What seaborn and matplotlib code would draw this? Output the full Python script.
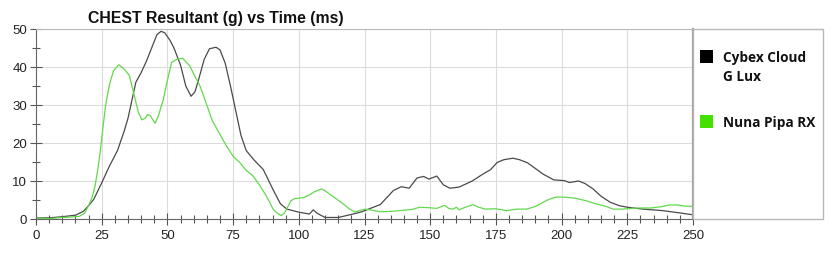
import matplotlib
matplotlib.use("Agg")
import matplotlib.pyplot as plt
from matplotlib.patches import Rectangle
from matplotlib.lines import Line2D
from matplotlib.ticker import MultipleLocator
import seaborn as sns
import pandas as pd

title = "CHEST Resultant (g) vs Time (ms)"
series_names = ["Cybex Cloud\nG Lux", "Nuna Pipa RX"]
line_colors = ["#4a4a4a", "#62d94c"]
patch_colors = ["#000000", "#44e000"]

cybex_t = [0, 5, 10, 15, 18, 20, 22, 25, 28, 31, 33.5, 35, 38, 40, 42, 44, 46, 47.6, 49, 51, 52.5,
           55, 57, 59, 60.5, 62, 64, 66, 68.5, 70, 72, 74, 76, 78, 80, 83, 86.5, 90, 93, 95.5, 100,
           104, 105.5, 107, 110, 115, 120, 124, 128, 131, 134, 136, 139, 142, 145, 147.5, 149.5,
           152.5, 155, 157.5, 161, 166, 170, 173, 175.5, 178, 181.5, 184, 187, 190, 193, 197, 201,
           203, 206.5, 209, 212, 215, 218.5, 222, 225, 231, 238.5, 245, 250]
cybex_g = [0.3, 0.3, 0.6, 1.0, 2.0, 3.5, 5.2, 9.5, 14, 18, 23, 26.5, 36, 38.5, 41.5, 45, 48.5, 49.4,
           49, 47, 45, 40.5, 35, 32.3, 33.5, 37, 42, 44.8, 45.2, 44.5, 41, 35, 28.5, 22, 18, 15.5,
           13, 8, 4, 2.6, 1.8, 1.3, 2.4, 1.5, 0.4, 0.4, 1.2, 1.9, 3, 3.8, 6, 7.5, 8.5, 8.1, 10.8,
           11.2, 10.5, 11.3, 9, 8.1, 8.4, 10, 11.8, 13, 14.9, 15.6, 16, 15.6, 14.8, 13.3, 11.8,
           10.3, 10.1, 9.6, 10, 9.3, 7.9, 6, 4.4, 3.5, 3.1, 2.6, 2.2, 1.6, 1.1]

nuna_t = [0, 5, 10, 13, 16.5, 18.5, 20, 21.5, 22.5, 23.5, 24.4, 25.3, 26.5, 28, 29.5, 31.5, 33.5,
          35.5, 36.5, 37.7, 39, 40.3, 41.5, 42.5, 43.5, 45.3, 46.5, 48.5, 50, 51.6, 53.5, 55.8,
          58.5, 60.5, 62.4, 65, 67, 69, 72.4, 75, 77.5, 80, 82.5, 85, 87.6, 89, 90.2, 91.5, 93.3,
          94.5, 95.5, 97, 98.5, 101.7, 104, 106, 108.7, 110.5, 112, 114.5, 117, 119, 121.4, 123,
          125.2, 128, 131, 135, 140, 143, 146, 149, 152.5, 155.5, 157, 158.6, 160, 161, 163,
          166.4, 168, 171, 175, 179, 183, 186.7, 190, 192.5, 194.3, 196.5, 198.2, 202, 205,
          209.3, 213, 217, 219.6, 223, 227, 230, 234, 238.5, 241, 244, 247, 250]
nuna_g = [0.3, 0.1, 0.4, 0.5, 0.7, 1.5, 3.5, 6, 8.8, 13, 17.5, 23, 30, 35.5, 39, 40.6, 39.5, 37.8,
          35, 31.6, 28, 26.1, 26.5, 27.5, 27.2, 25.2, 27, 31.6, 36.5, 41.2, 42, 42.3, 40.3, 37.5,
          35, 30, 26, 23.5, 19.3, 16.5, 14.9, 12.8, 11.4, 9, 6.1, 4.3, 2.6, 1.7, 0.9, 1.5, 2.8,
          4.8, 5.4, 5.6, 6.3, 7.2, 7.9, 7.2, 6.4, 5.2, 3.9, 2.8, 1.8, 2.2, 2.6, 2.3, 1.9, 2.0,
          2.3, 2.5, 3.1, 3.0, 2.8, 3.6, 2.8, 2.6, 3.1, 2.4, 3.0, 3.8, 3.2, 2.6, 2.7, 2.2, 2.6,
          2.6, 3.3, 4.2, 4.9, 5.5, 5.8, 5.7, 5.5, 4.8, 4.0, 3.3, 2.6, 2.6, 2.8, 2.9, 2.9, 3.3,
          3.7, 3.7, 3.4, 3.3]

x_ticks = [0, 25, 50, 75, 100, 125, 150, 175, 200, 225, 250]
y_ticks = [0, 10, 20, 30, 40, 50]

df = pd.concat([
    pd.DataFrame({"t": cybex_t, "g": cybex_g, "s": series_names[0]}),
    pd.DataFrame({"t": nuna_t, "g": nuna_g, "s": series_names[1]}),
])

sns.set_theme(style="white")
plt.rcParams["font.family"] = ["Liberation Sans", "DejaVu Sans"]

fig = plt.figure(figsize=(8.3, 2.55), dpi=100)

# legend box (behind the axes)
fig.patches.append(Rectangle((693 / 830, 1 - 220 / 255), 130 / 830, 190 / 255,
                             transform=fig.transFigure, facecolor="white",
                             edgecolor="#b8b8b8", linewidth=1.0, zorder=0))

ax = fig.add_axes([36 / 830, 1 - 220 / 255, 657 / 830, 190 / 255])
ax.patch.set_alpha(0)

sns.lineplot(data=df, x="t", y="g", hue="s", palette=dict(zip(series_names, line_colors)),
             linewidth=0.9, sort=False, estimator=None, legend=False, ax=ax)

ax.set_xlim(0, 250)
ax.set_ylim(0, 50)
ax.set_xticks(x_ticks)
ax.set_yticks(y_ticks)
ax.xaxis.set_minor_locator(MultipleLocator(5))
ax.yaxis.set_minor_locator(MultipleLocator(5))
ax.set_xlabel("")
ax.set_ylabel("")
ax.grid(True, which="major", color="#dcdcdc", linewidth=0.8)
ax.set_axisbelow(True)
for side in ["left", "bottom", "top", "right"]:
    ax.spines[side].set_visible(True)
    ax.spines[side].set_color("#666666")
    ax.spines[side].set_linewidth(0.8)
ax.spines["top"].set_color("#bbbbbb")
ax.spines["right"].set_color("#a0a0a0")
ax.spines["right"].set_linewidth(1.6)
ax.tick_params(axis="both", which="major", direction="inout", length=9, width=0.8,
               color="#555555", labelsize=9.5, labelcolor="#222222", bottom=True, left=True)
ax.tick_params(axis="both", which="minor", direction="inout", length=6, width=0.8,
               color="#555555", bottom=True, left=True)
ax.tick_params(axis="x", which="major", pad=3)
ax.tick_params(axis="y", which="major", pad=2)

fig.text(88 / 830, 1 - 18 / 255, title, fontsize=11.4, fontweight="bold", color="#111111",
         ha="left", va="center")

leg_y = [58, 123]
for name, col, yy in zip(series_names, patch_colors, leg_y):
    fig.patches.append(Rectangle((700 / 830, 1 - (yy + 6) / 255), 13 / 830, 13 / 255,
                                 transform=fig.transFigure, facecolor=col, edgecolor="none"))
    fig.text(723 / 830, 1 - (yy - 7) / 255, name, fontsize=9.8, fontweight="bold",
             family=["Open Sans", "DejaVu Sans"], color="#111111", ha="left", va="top",
             linespacing=1.45)

fig.savefig("out.png", dpi=100)
